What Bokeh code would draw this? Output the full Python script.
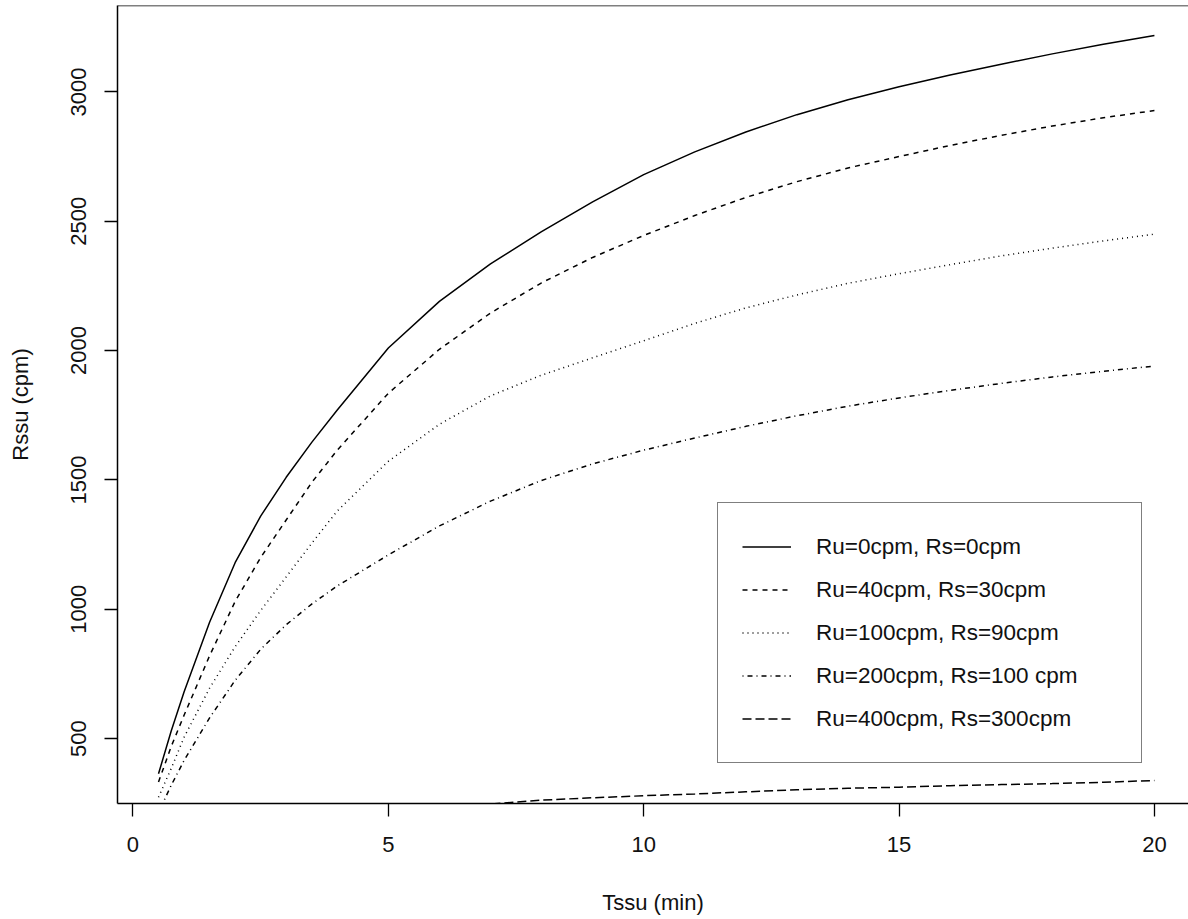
from bokeh.plotting import figure
from bokeh.models import Span, FixedTicker, Range1d
from bokeh.embed import file_html
from bokeh.resources import INLINE

# ---- data ----
T = [0.5, 0.75, 1, 1.5, 2, 2.5, 3, 3.5, 4, 5, 6, 7, 8, 9, 10,
     11, 12, 13, 14, 15, 16, 17, 18, 19, 20]

R_0_0 = [364, 530, 680, 950, 1180, 1360, 1510, 1645, 1770, 2010, 2190, 2335,
         2460, 2575, 2680, 2768, 2845, 2912, 2970, 3020, 3065, 3107, 3147, 3184, 3218]
R_40_30 = [332, 470, 590, 820, 1030, 1200, 1345, 1490, 1615, 1835, 2005, 2145,
           2262, 2360, 2445, 2522, 2592, 2653, 2706, 2750, 2793, 2832, 2868, 2900, 2928]
R_100_90 = [273, 385, 505, 695, 855, 995, 1125, 1255, 1380, 1572, 1715, 1825,
            1905, 1972, 2038, 2105, 2165, 2215, 2260, 2297, 2332, 2366, 2396, 2424, 2450]
R_200_100 = [215, 320, 415, 580, 725, 845, 940, 1020, 1090, 1210, 1322, 1418,
             1498, 1562, 1615, 1662, 1707, 1748, 1785, 1817, 1846, 1873, 1898, 1920, 1940]
R_400_300 = [35, 50, 65, 90, 112, 130, 148, 162, 177, 205, 230, 247,
             262, 271, 279, 286, 294, 302, 308, 312, 318, 322, 326, 331, 338]

SERIES = [R_0_0, R_40_30, R_100_90, R_200_100, R_400_300]
LABELS = ["Ru=0cpm, Rs=0cpm", "Ru=40cpm, Rs=30cpm", "Ru=100cpm, Rs=90cpm",
          "Ru=200cpm, Rs=100 cpm", "Ru=400cpm, Rs=300cpm"]
DASHES = ["solid", "5 5", "1 4", "1 4 5 4", "9 4"]

X_TICKS = [0, 5, 10, 15, 20]
Y_TICKS = [500, 1000, 1500, 2000, 2500, 3000]
X_LABEL = "Tssu (min)"
Y_LABEL = "Rssu (cpm)"

X_START, X_END = -0.303, 20.667
Y_START, Y_END = 249, 3334

FONT = "Liberation Sans"

p = figure(width=1188, height=919, output_backend="svg", toolbar_location=None,
           x_range=Range1d(X_START, X_END), y_range=Range1d(Y_START, Y_END),
           min_border_left=117, min_border_bottom=116, min_border_top=5,
           min_border_right=0)
p.outline_line_color = None
p.background_fill_color = "white"
p.border_fill_color = "white"
p.xgrid.visible = False
p.ygrid.visible = False

for ys, lab, dash in zip(SERIES, LABELS, DASHES):
    p.line(T, ys, line_color="black", line_width=1.5, line_dash=dash,
           legend_label=lab)

# top frame edge
p.add_layout(Span(location=Y_END, dimension="width", line_color="black",
                  line_width=1.5))

for ax in (p.xaxis[0], p.yaxis[0]):
    ax.axis_line_color = "black"
    ax.axis_line_width = 1.5
    ax.major_tick_line_color = "black"
    ax.major_tick_line_width = 1.3
    ax.major_tick_out = 13
    ax.major_tick_in = 0
    ax.minor_tick_line_color = None
    ax.major_label_text_font = FONT
    ax.major_label_text_font_size = "22px"
    ax.major_label_text_color = "#111111"
    ax.axis_label_text_font = FONT
    ax.axis_label_text_font_size = "22px"
    ax.axis_label_text_font_style = "normal"
    ax.axis_label_text_color = "#111111"

p.xaxis.ticker = FixedTicker(ticks=X_TICKS)
p.yaxis.ticker = FixedTicker(ticks=Y_TICKS)
p.xaxis.axis_label = X_LABEL
p.yaxis.axis_label = Y_LABEL
p.xaxis.major_label_standoff = 20
p.xaxis.axis_label_standoff = 35
p.yaxis.major_label_standoff = 18
p.yaxis.axis_label_standoff = 36
p.yaxis.major_label_orientation = "vertical"

lg = p.legend[0]
lg.location = (600, 40)
lg.border_line_color = "black"
lg.border_line_width = 1.3
lg.background_fill_color = "white"
lg.background_fill_alpha = 1.0
lg.padding = 24
lg.margin = 0
lg.glyph_width = 49
lg.glyph_height = 39
lg.label_height = 39
lg.spacing = 4
lg.label_standoff = 25
lg.label_width = 301
lg.label_text_font = FONT
lg.label_text_font_size = "22.5px"
lg.label_text_color = "#111111"

open("out.html", "w").write(file_html(p, INLINE))
